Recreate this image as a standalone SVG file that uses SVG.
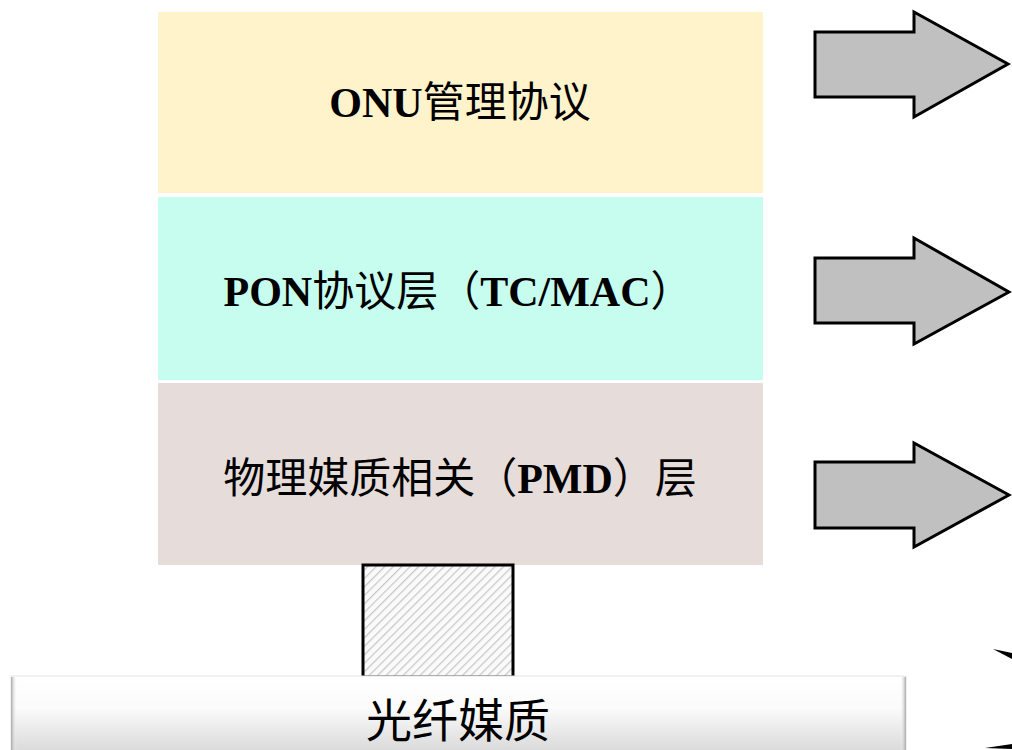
<svg xmlns="http://www.w3.org/2000/svg" width="1012" height="750" viewBox="0 0 1012 750">
<style>
.lbl{font-family:"Liberation Serif","Noto Sans CJK SC",serif;font-size:42px;fill:#000;text-anchor:middle}
.lat{font-weight:bold}
.cjk{font-family:"Noto Sans CJK SC",sans-serif;font-weight:normal}
.arrow{fill:#c0c0c0;stroke:#000;stroke-width:3;stroke-linejoin:miter}
</style>
<defs>
<pattern id="hatch" width="6" height="6" patternUnits="userSpaceOnUse" patternTransform="rotate(45)">
<rect width="6" height="6" fill="#fafafa"/>
<line x1="0" y1="0" x2="0" y2="6" stroke="#c8c8c8" stroke-width="2.5"/>
</pattern>
<linearGradient id="bar" x1="0" y1="0" x2="0" y2="1">
<stop offset="0" stop-color="#ffffff"/>
<stop offset="0.4" stop-color="#fbfbfb"/>
<stop offset="1" stop-color="#d6d6d6"/>
</linearGradient>
<linearGradient id="edgeL" x1="0" y1="0" x2="1" y2="0">
<stop offset="0" stop-color="#a8a8a8"/>
<stop offset="1" stop-color="#ffffff" stop-opacity="0"/>
</linearGradient>
<linearGradient id="edgeR" x1="1" y1="0" x2="0" y2="0">
<stop offset="0" stop-color="#a8a8a8"/>
<stop offset="1" stop-color="#ffffff" stop-opacity="0"/>
</linearGradient>
</defs>
<rect width="1012" height="750" fill="#ffffff"/>

<g id="onu-mgmt">
<rect x="158" y="12" width="605" height="181" fill="#fff3cc"/>
<text class="lbl" x="460" y="117"><tspan class="lat">ONU</tspan><tspan class="cjk">管理协议</tspan></text>
</g>
<g id="pon-layer">
<rect x="158" y="197" width="605" height="183" fill="#c6fdee"/>
<text class="lbl" x="458" y="306"><tspan class="lat">PON</tspan><tspan class="cjk">协议层（</tspan><tspan class="lat">TC/MAC</tspan><tspan class="cjk">）</tspan></text>
</g>
<g id="pmd-layer">
<rect x="158" y="383" width="605" height="182" fill="#e6dcd9"/>
<text class="lbl" x="460" y="493"><tspan class="cjk">物理媒质相关（</tspan><tspan class="lat">PMD</tspan><tspan class="cjk">）层</tspan></text>
</g>
<g id="fiber-link">
<rect x="363" y="565" width="150" height="112" fill="url(#hatch)" stroke="#000" stroke-width="3"/>
</g>
<g id="fiber-medium">
<rect x="11" y="676" width="895" height="80" fill="url(#bar)" stroke="#e4e4e4" stroke-width="1"/>
<rect x="11" y="677" width="6" height="73" fill="url(#edgeL)"/>
<rect x="900" y="677" width="6" height="73" fill="url(#edgeR)"/>
<text x="458" y="737" font-family="'Noto Sans CJK SC',sans-serif" font-size="46" text-anchor="middle" fill="#000">光纤媒质</text>
</g>

<g id="connectors">
<polygon class="arrow" points="815,32 914,32 914,12 1008,64 914,117 914,97 815,97"/>
<polygon class="arrow" points="815,258 914,258 914,238 1009,292 914,344 914,323 815,323"/>
<polygon class="arrow" points="815,462 914,462 914,443 1009,495 914,547 914,528 815,528"/>
<polygon points="993,649 1012,653 1012,659" fill="#000"/>
<polygon points="985,748 1012,744 1012,749" fill="#000"/>
</g>
</svg>
